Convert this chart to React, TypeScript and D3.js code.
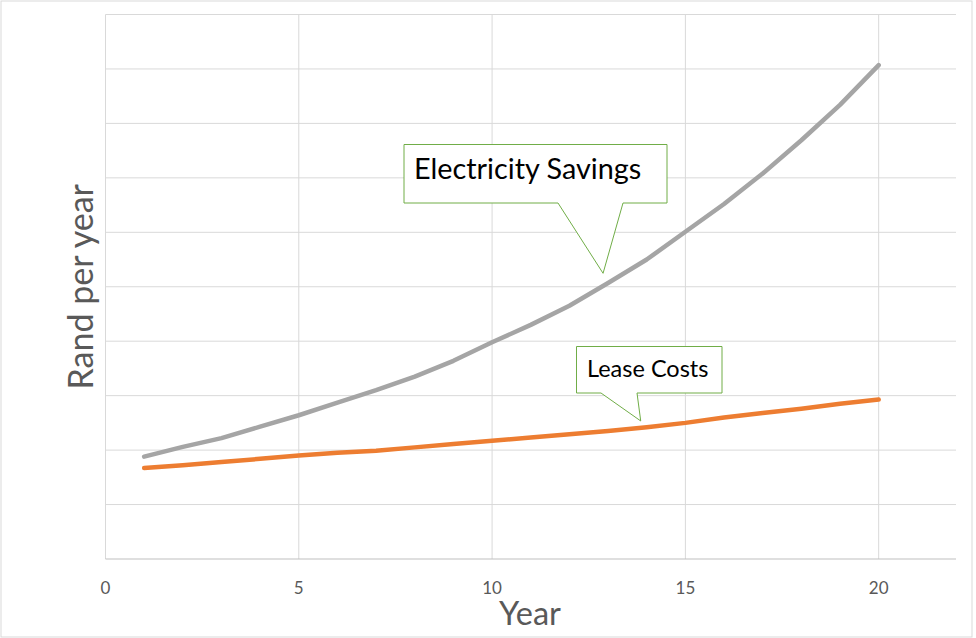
import React, { useEffect, useRef } from "react";
import * as d3 from "d3";

// years on the x axis
const years: number[] = d3.range(1, 21);

// values, in grid units (no y tick labels shown)
const electricitySavings: number[] = [
  1.88, 2.06, 2.22, 2.43, 2.64, 2.87, 3.1, 3.35, 3.64, 3.98,
  4.3, 4.65, 5.07, 5.5, 6.01, 6.52, 7.08, 7.69, 8.34, 9.07,
];
const leaseCosts: number[] = [
  1.67, 1.72, 1.78, 1.84, 1.9, 1.95, 1.99, 2.05, 2.11, 2.17,
  2.23, 2.29, 2.35, 2.42, 2.5, 2.6, 2.68, 2.76, 2.85, 2.93,
];

const xTicks: number[] = [0, 5, 10, 15, 20];
const yGrid: number[] = d3.range(0, 11);

const W = 976;
const H = 638;
const margin = { top: 14.5, right: 20, bottom: 79, left: 105.5 };
const FONT = "Lato, 'Open Sans', 'Noto Sans', sans-serif";

const App: React.FC = () => {
  const svgRef = useRef<SVGSVGElement | null>(null);

  useEffect(() => {
    if (!svgRef.current) return;
    const svg = d3.select(svgRef.current);
    svg.selectAll("*").remove();

    const x = d3.scaleLinear().domain([0, 22]).range([margin.left, W - margin.right]);
    const y = d3.scaleLinear().domain([0, 10]).range([H - margin.bottom, margin.top]);

    // outer chart border
    svg.append("rect")
      .attr("x", 1).attr("y", 1)
      .attr("width", 971).attr("height", 636)
      .attr("fill", "white")
      .attr("stroke", "#d9d9d9");

    // horizontal gridlines
    svg.append("g")
      .selectAll("line")
      .data(yGrid.slice(1))
      .join("line")
      .attr("x1", x(0)).attr("x2", x(22))
      .attr("y1", (d) => y(d)).attr("y2", (d) => y(d))
      .attr("stroke", "#d9d9d9");

    // vertical gridlines
    svg.append("g")
      .selectAll("line")
      .data(xTicks)
      .join("line")
      .attr("x1", (d) => x(d)).attr("x2", (d) => x(d))
      .attr("y1", y(0)).attr("y2", y(10))
      .attr("stroke", "#d9d9d9");

    // bottom axis line
    svg.append("line")
      .attr("x1", x(0)).attr("x2", x(22))
      .attr("y1", y(0)).attr("y2", y(0))
      .attr("stroke", "#bfbfbf");

    // x tick labels
    svg.append("g")
      .selectAll("text")
      .data(xTicks)
      .join("text")
      .attr("x", (d) => x(d))
      .attr("y", y(0) + 34.5)
      .attr("text-anchor", "middle")
      .attr("font-family", FONT)
      .attr("font-size", 17)
      .attr("fill", "#595959")
      .text((d) => d);

    // axis titles
    svg.append("text")
      .attr("x", 530).attr("y", 625)
      .attr("text-anchor", "middle")
      .attr("font-family", FONT)
      .attr("font-size", 32.5)
      .attr("fill", "#595959")
      .text("Year");

    svg.append("text")
      .attr("transform", `translate(93,${(y(0) + y(10)) / 2}) rotate(-90)`)
      .attr("text-anchor", "middle")
      .attr("font-family", FONT)
      .attr("font-size", 34)
      .attr("fill", "#595959")
      .text("Rand per year");

    const line = d3.line<number>()
      .x((_, i) => x(years[i]))
      .y((d) => y(d));

    svg.append("path")
      .datum(electricitySavings)
      .attr("d", line)
      .attr("fill", "none")
      .attr("stroke", "#a5a5a5")
      .attr("stroke-width", 4.5)
      .attr("stroke-linecap", "round")
      .attr("stroke-linejoin", "round");

    svg.append("path")
      .datum(leaseCosts)
      .attr("d", line)
      .attr("fill", "none")
      .attr("stroke", "#ed7d31")
      .attr("stroke-width", 4.5)
      .attr("stroke-linecap", "round")
      .attr("stroke-linejoin", "round");

    // callout boxes
    const callout = (
      label: string,
      box: { x0: number; y0: number; x1: number; y1: number },
      tail: [number, number, number, number, number, number],
      fontSize: number,
      tx: number,
      ty: number
    ) => {
      const [a, b, tipX, tipY, c, d] = tail;
      const p = d3.path();
      p.moveTo(box.x0, box.y0);
      p.lineTo(box.x1, box.y0);
      p.lineTo(box.x1, box.y1);
      p.lineTo(c, d);
      p.lineTo(tipX, tipY);
      p.lineTo(a, b);
      p.lineTo(box.x0, box.y1);
      p.closePath();
      svg.append("path")
        .attr("d", p.toString())
        .attr("fill", "white")
        .attr("stroke", "#70ad47")
        .attr("stroke-width", 1);
      svg.append("text")
        .attr("x", tx).attr("y", ty)
        .attr("font-family", FONT)
        .attr("font-size", fontSize)
        .attr("fill", "#000")
        .text(label);
    };

    callout(
      "Electricity Savings",
      { x0: 404, y0: 144.5, x1: 667, y1: 203 },
      [558, 203, x(13) - 5, y(5.1) - 8, 623, 203],
      28.8,
      414,
      179
    );

    callout(
      "Lease Costs",
      { x0: 576.5, y0: 346.5, x1: 722, y1: 393 },
      [601, 393, x(14) - 6, y(2.48) - 3, 637, 393],
      23.5,
      587,
      376.5
    );
  }, []);

  return (
    <svg
      ref={svgRef}
      width={W}
      height={H}
      style={{ position: "absolute", left: 0, top: 0, background: "white" }}
    />
  );
};

export default App;
